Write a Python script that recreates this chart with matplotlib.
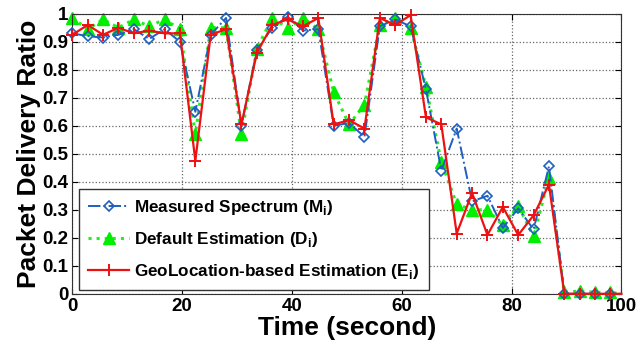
import numpy as np
import matplotlib
matplotlib.use('Agg')
import matplotlib.pyplot as plt

plt.rcParams['font.family'] = ['Liberation Sans', 'DejaVu Sans']
plt.rcParams['font.weight'] = 'bold'
plt.rcParams['mathtext.fontset'] = 'custom'
plt.rcParams['mathtext.rm'] = 'Liberation Sans:bold'
plt.rcParams['mathtext.bf'] = 'Liberation Sans:bold'

# sample times (s), last point at the axis end
time_s = [0, 2.8, 5.6, 8.4, 11.2, 14, 16.8, 19.6, 22.4, 25.2, 28, 30.8,
          33.6, 36.4, 39.2, 42, 44.8, 47.6, 50.4, 53.2, 56, 58.8, 61.6, 64.4,
          67.2, 70, 72.8, 75.6, 78.4, 81.2, 84, 86.8, 89.6, 92.4, 95.2, 98, 100]

measured = [0.93, 0.92, 0.915, 0.925, 0.945, 0.91, 0.945, 0.90, 0.65, 0.925, 0.985, 0.60,
            0.87, 0.95, 0.99, 0.94, 0.945, 0.60, 0.61, 0.56, 0.955, 0.98, 0.955, 0.73,
            0.44, 0.59, 0.33, 0.35, 0.235, 0.305, 0.23, 0.455, 0.0, 0.0, 0.0, 0.0, 0.0]

default_est = [0.985, 0.945, 0.98, 0.95, 0.98, 0.955, 0.98, 0.945, 0.57, 0.95, 0.95, 0.57,
               0.875, 0.985, 0.95, 0.985, 0.945, 0.72, 0.605, 0.675, 0.96, 0.985, 0.95, 0.74,
               0.47, 0.32, 0.30, 0.30, 0.245, 0.315, 0.205, 0.415, 0.005, 0.01, 0.005, 0.005, 0.0]

geo_est = [0.925, 0.96, 0.925, 0.95, 0.93, 0.94, 0.93, 0.93, 0.475, 0.925, 0.945, 0.605,
           0.86, 0.96, 0.98, 0.955, 0.985, 0.605, 0.62, 0.59, 0.985, 0.96, 0.995, 0.63,
           0.605, 0.215, 0.36, 0.21, 0.31, 0.21, 0.28, 0.39, 0.0, 0.0, 0.0, 0.0, 0.0]

labels = ['Measured Spectrum (M$_\\mathrm{i}$)',
          'Default Estimation (D$_\\mathrm{i}$)',
          'GeoLocation-based Estimation (E$_\\mathrm{i}$)']

x_ticks = [0, 20, 40, 60, 80, 100]
y_ticks = [0, 0.1, 0.2, 0.3, 0.4, 0.5, 0.6, 0.7, 0.8, 0.9, 1]
y_ticklabels = ['0', '0.1', '0.2', '0.3', '0.4', '0.5', '0.6', '0.7', '0.8', '0.9', '1']

fig = plt.figure(figsize=(6.4, 3.44), dpi=100)
ax = fig.add_axes([0.113, 0.146, 0.858, 0.814])

marks = slice(0, len(time_s) - 1)
ax.plot(time_s, measured, color='#1f5fbf', linestyle='-.', linewidth=1.4,
        marker='D', markersize=5.5, markerfacecolor='none', markeredgewidth=1.2,
        markevery=marks, label=labels[0], clip_on=False, zorder=3)
ax.plot(time_s, default_est, color='#22ee22', linestyle=':', linewidth=2.2,
        marker='^', markersize=8.5, markerfacecolor='#00ee00', markeredgecolor='#00ee00',
        markevery=marks, label=labels[1], clip_on=False, zorder=2)
ax.plot(time_s, geo_est, color='#ee1111', linestyle='-', linewidth=1.6,
        marker='+', markersize=8, markeredgewidth=1.4,
        markevery=marks, label=labels[2], clip_on=False, zorder=4)

ax.set_xlim(0, 100)
ax.set_ylim(0, 1)
ax.set_xticks(x_ticks)
ax.set_yticks(y_ticks)
ax.set_yticklabels(y_ticklabels)
ax.tick_params(direction='in', top=True, right=True, labelsize=13.5, length=4)
ax.tick_params(axis='x', pad=3)
ax.tick_params(axis='y', pad=3)
ax.grid(True, linestyle=':', color='#666666', linewidth=0.9)
for s in ax.spines.values():
    s.set_color('#333333')

ax.set_xlabel('Time (second)', fontsize=19, fontweight='bold', labelpad=0.5)
ax.set_ylabel('Packet Delivery Ratio', fontsize=19, fontweight='bold', labelpad=1)

leg = ax.legend(loc='lower left', bbox_to_anchor=(0.012, 0.012), fontsize=12.3,
                fancybox=False, edgecolor='#333333', framealpha=1, handlelength=2.4,
                borderaxespad=0, labelspacing=0.75, handletextpad=0.3, borderpad=0.55)
leg.get_frame().set_linewidth(1.0)

plt.savefig('out.png', dpi=100)
plt.close()
